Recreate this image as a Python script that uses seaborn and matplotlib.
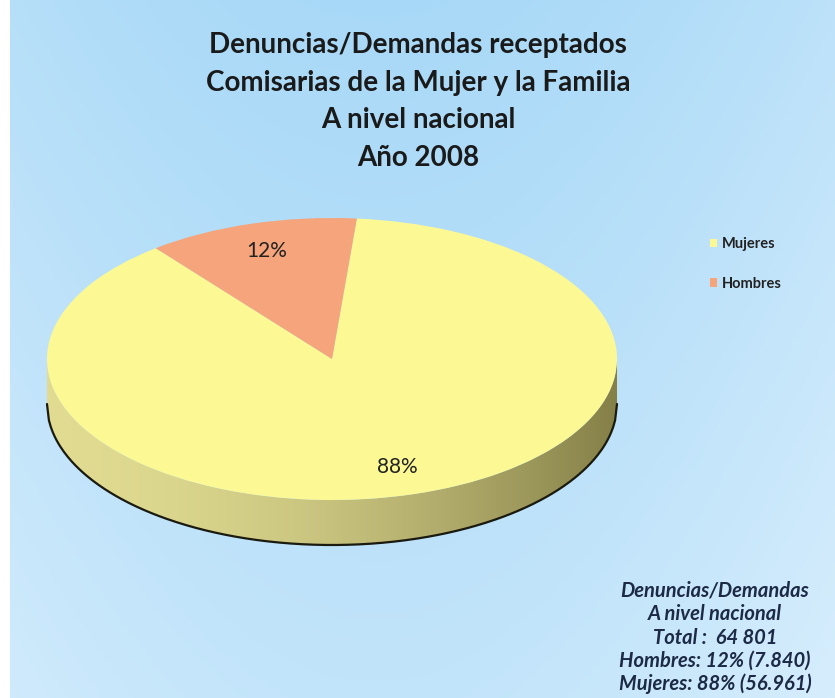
import numpy as np
import matplotlib
matplotlib.use('Agg')
import matplotlib.pyplot as plt
import seaborn as sns
from matplotlib.patches import Polygon, Rectangle

# datos ==============================================
categorias = ['Mujeres', 'Hombres']
porcentajes = [88, 12]
casos = [56961, 7840]
total = 64801
colores = ['#FCF995', '#F5A47B']

titulo = ['Denuncias/Demandas receptados',
          'Comisarias de la Mujer y la Familia',
          'A nivel nacional',
          'Año 2008']
resumen = ['Denuncias/Demandas',
           'A nivel nacional',
           'Total :  64 801',
           'Hombres: 12% (7.840)',
           'Mujeres: 88% (56.961)']

sns.set_theme(style='white')
plt.rcParams['font.family'] = ['Lato', 'DejaVu Sans']

W, H = 835, 698
fig = plt.figure(figsize=(W / 100, H / 100), dpi=100)
ax = fig.add_axes([0, 0, 1, 1])

# mapeo pixel -> datos (elipse superior del pastel)
cx, cy, a, b = 332, 359, 285, 141
depth = 45 / b
xlim = ((0 - cx) / a, (W - cx) / a)
ylim = ((cy - H) / b, cy / b)

# fondo degradado azul
gx = np.linspace(0, 1, 200)
gy = np.linspace(0, 1, 200)
GX, GY = np.meshgrid(gx, gy)
fondo = 0.5 + 0.5 * np.cos((GX - 0.45) * 2.2) * 0.6 + 0.25 * GY
c1 = np.array([0.66, 0.85, 0.97])
c2 = np.array([0.84, 0.93, 0.99])
t = (fondo - fondo.min()) / (fondo.max() - fondo.min())
img = c1 + (c2 - c1) * (1 - t[..., None])
ax.imshow(img, extent=[xlim[0], xlim[1], ylim[0], ylim[1]],
          aspect='auto', zorder=0, origin='lower')

# lateral del pastel (3D)
xs = np.linspace(-1, 1, 300)
top = -np.sqrt(1 - xs ** 2)
verts = np.vstack([np.column_stack([xs, top]),
                   np.column_stack([xs[::-1], top[::-1] - depth])])
lado = Polygon(verts, closed=True, facecolor='none', edgecolor='none')
ax.add_patch(lado)
grad = np.linspace(0, 1, 300)[None, :]
light = np.array([0.88, 0.86, 0.57])
dark = np.array([0.52, 0.50, 0.28])
shade = light + (dark - light) * (grad[..., None] ** 1.8)
shade = np.repeat(shade, 20, axis=0)
im = ax.imshow(shade, extent=[-1, 1, -1 - depth, 0], aspect='auto',
               zorder=1, origin='lower')
im.set_clip_path(lado)
ax.plot(xs, top - depth, color='#1a1a10', lw=1.6, zorder=2)

# cara superior
wedges, textos, autotextos = ax.pie(
    porcentajes, colors=colores, startangle=85, counterclock=False,
    autopct='%1.0f%%', pctdistance=0.8, radius=1, frame=True,
    wedgeprops=dict(linewidth=0),
    textprops=dict(fontsize=15, color='#222222'))
for w in wedges:
    w.set_zorder(3)
for tx in autotextos:
    tx.set_zorder(5)

ax.set_aspect('auto')
ax.set_xlim(*xlim)
ax.set_ylim(*ylim)
ax.axis('off')

# borde blanco izquierdo
fig.patches.append(Rectangle((0, 0), 10 / W, 1, transform=fig.transFigure,
                             facecolor='white', edgecolor='none', zorder=10))

# titulo
for i, linea in enumerate(titulo):
    fig.text(418 / W, 1 - (45 + i * 37.5) / H, linea, ha='center', va='center',
             fontsize=20, fontweight='bold', color='#1a1a1a')

# leyenda
leg = ax.legend(wedges, categorias, loc='upper left',
                bbox_to_anchor=(697 / W, 1 - 224 / H),
                bbox_transform=fig.transFigure, frameon=False,
                fontsize=10.5, handlelength=0.5, handleheight=0.5,
                handletextpad=0.3, labelspacing=1.75)
for tx in leg.get_texts():
    tx.set_fontweight('bold')
    tx.set_color('#222222')

# resumen
for i, linea in enumerate(resumen):
    fig.text(715 / W, 1 - (591 + i * 23.3) / H, linea, ha='center',
             va='center', fontsize=14.5, fontstyle='italic',
             fontweight='bold', color='#1c2a45')

fig.savefig('out.png', dpi=100)
